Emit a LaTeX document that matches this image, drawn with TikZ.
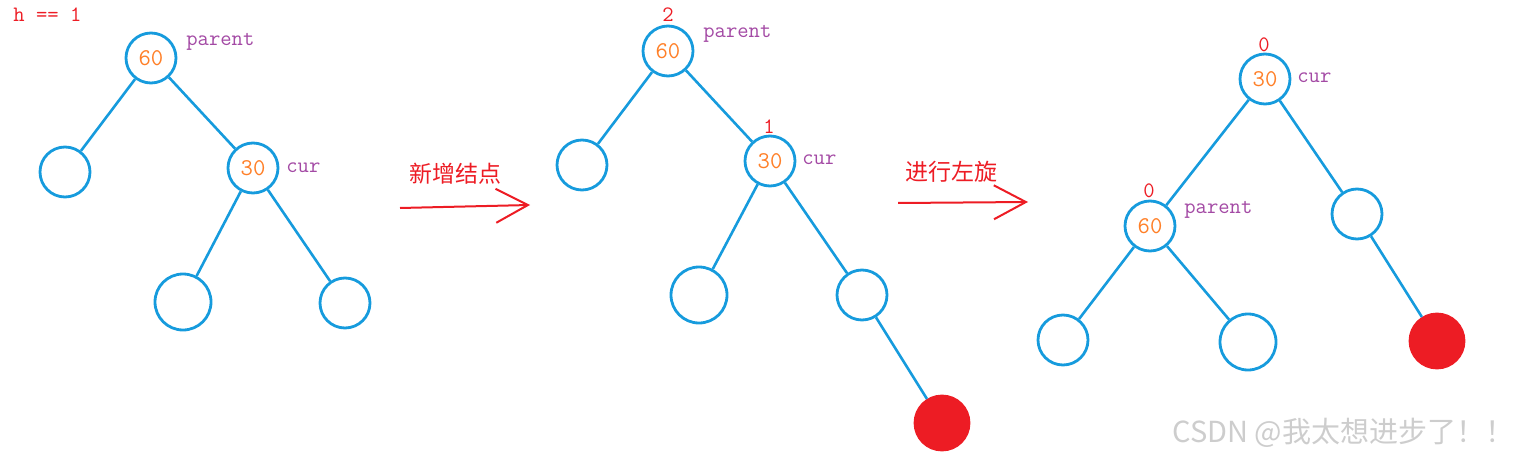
\documentclass[tikz,border=0pt]{standalone}
\usepackage{fontspec}
\newfontfamily\cjk{Noto Sans CJK SC}
\usetikzlibrary{arrows.meta}

\definecolor{treeblue}{RGB}{22,155,221}
\definecolor{valorange}{RGB}{255,127,39}
\definecolor{tagpurple}{RGB}{163,73,164}
\definecolor{markred}{RGB}{237,28,36}
\definecolor{wmgray}{RGB}{205,205,205}

\tikzset{
  vtx/.style={circle, draw=treeblue, line width=1.4pt, minimum size=25pt, inner sep=0pt,
    font=\ttfamily\fontsize{12}{12}\selectfont, text=valorange},
  bigvtx/.style={vtx, minimum size=28pt},
  newvtx/.style={vtx, draw=markred, fill=markred, minimum size=27pt},
  edge/.style={treeblue, line width=1.3pt},
  tag/.style={anchor=west, inner sep=0pt, text=tagpurple, font=\ttfamily\fontsize{11}{11}\selectfont},
  bal/.style={inner sep=0pt, text=markred, font=\ttfamily\fontsize{11}{11}\selectfont},
  stepnote/.style={text=markred, font=\cjk\fontsize{11.5}{11.5}\selectfont},
  movearrow/.style={markred, line width=1pt, -{Straight Barb[length=16pt, width=17pt]}}
}

\begin{document}
\begin{tikzpicture}[x=0.5pt, y=-0.5pt]
    \useasboundingbox (0,0) rectangle (1525,460);

    % Before insertion
    \node[bal, anchor=west] (hnote) at (13,15) {h == 1};
    \node[vtx] (p1) at (151,58) {60};
    \node[vtx] (l1) at (65,172) {};
    \node[vtx] (c1) at (253,168) {30};
    \node[bigvtx] (cl1) at (183,302) {};
    \node[vtx] (cr1) at (345,303) {};
    \node[tag] (ptag1) at (186,42) {parent};
    \node[tag] (ctag1) at (286,168) {cur};

    \draw[edge] (p1) -- (l1);
    \draw[edge] (p1) -- (c1);
    \draw[edge] (c1) -- (cl1);
    \draw[edge] (c1) -- (cr1);

    % First arrow
    \coordinate (a1s) at (400,208);
    \coordinate (a1e) at (530,205);
    \draw[movearrow] (a1s) -- (a1e);
    \node[stepnote] (note1) at (455,174) {新增结点};

    % After insertion
    \node[vtx] (p2) at (668,51) {60};
    \node[vtx] (l2) at (582,165) {};
    \node[vtx] (c2) at (770,161) {30};
    \node[bigvtx] (cl2) at (699,295) {};
    \node[vtx] (cr2) at (862,295) {};
    \node[newvtx] (n2) at (942,423) {};
    \node[bal] (bp2) at (668,15) {2};
    \node[bal] (bc2) at (769,127) {1};
    \node[tag] (ptag2) at (703,34) {parent};
    \node[tag] (ctag2) at (802,160) {cur};

    \draw[edge] (p2) -- (l2);
    \draw[edge] (p2) -- (c2);
    \draw[edge] (c2) -- (cl2);
    \draw[edge] (c2) -- (cr2);
    \draw[edge] (cr2) -- (n2);

    % Second arrow
    \coordinate (a2s) at (898,203);
    \coordinate (a2e) at (1028,202);
    \draw[movearrow] (a2s) -- (a2e);
    \node[stepnote] (note2) at (951,172) {进行左旋};

    % After left rotation
    \node[vtx] (c3) at (1265,79) {30};
    \node[vtx] (p3) at (1150,226) {60};
    \node[vtx] (r3) at (1357,214) {};
    \node[vtx] (pl3) at (1063,340) {};
    \node[bigvtx] (pr3) at (1248,342) {};
    \node[newvtx] (n3) at (1437,341) {};
    \node[bal] (bc3) at (1264,45) {0};
    \node[bal] (bp3) at (1149,191) {0};
    \node[tag] (ctag3) at (1297,78) {cur};
    \node[tag] (ptag3) at (1184,210) {parent};

    \draw[edge] (c3) -- (p3);
    \draw[edge] (c3) -- (r3);
    \draw[edge] (p3) -- (pl3);
    \draw[edge] (p3) -- (pr3);
    \draw[edge] (r3) -- (n3);

    % Watermark
    \node[anchor=west, inner sep=0pt, text=wmgray, font=\cjk\fontsize{14.5}{14.5}\selectfont] (wm) at (1172,433) {CSDN @我太想进步了！！};
\end{tikzpicture}
\end{document}
